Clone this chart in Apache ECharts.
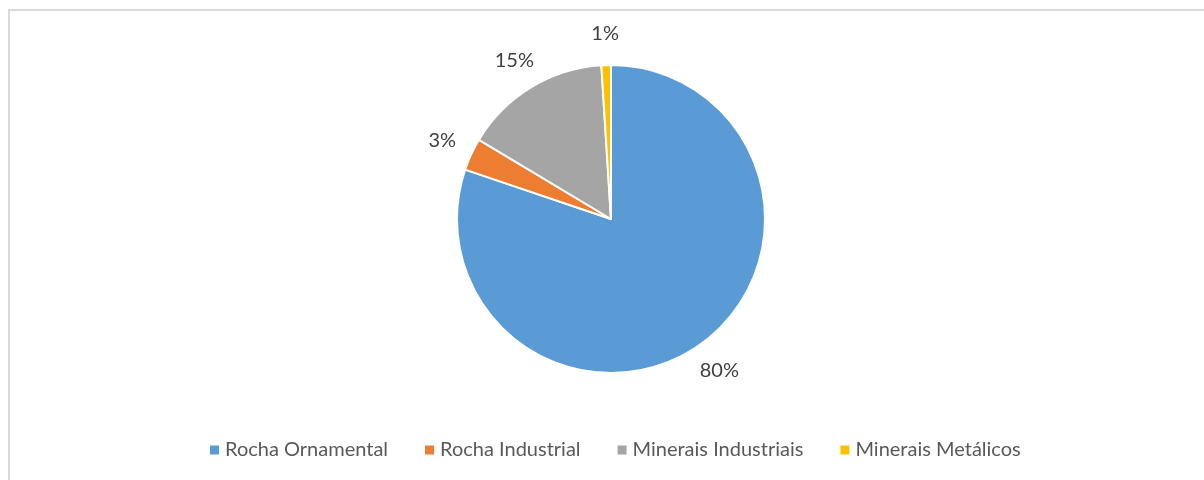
<!DOCTYPE html>
<html>
<head>
<meta charset="utf-8">
<script src="https://cdn.jsdelivr.net/npm/echarts@6/dist/echarts.min.js"></script>
<style>
html,body{margin:0;padding:0;background:#fff;}
#frame{position:absolute;left:8px;top:9px;width:1400px;height:700px;border-top:2px solid #d9d9d9;border-left:2px solid #d9d9d9;}
#chart{position:absolute;left:0;top:0;width:1204px;height:480px;}
</style>
</head>
<body>
<div id="frame"></div>
<div id="chart"></div>
<script>
const categories = ['Rocha Ornamental', 'Rocha Industrial', 'Minerais Industriais', 'Minerais Metálicos'];
const values = [80.2, 3.4, 15.4, 1.0];
const colors = ['#5b9bd5', '#ed7d31', '#a5a5a5', '#ffc000'];

const data = categories.map((c, i) => ({ name: c, value: values[i] }));
const fontFamily = 'Lato, "Noto Sans", sans-serif';
const chart = echarts.init(document.getElementById('chart'));
chart.setOption({
  animation: false,
  color: colors,
  legend: {
    data: categories,
    bottom: 15,
    left: 203,
    icon: 'rect',
    itemWidth: 11,
    itemHeight: 11,
    itemGap: 35,
    textStyle: { fontFamily: fontFamily, fontSize: 20, color: '#595959' }
  },
  series: [
    {
      type: 'pie',
      center: [611, 219],
      radius: [0, 154],
      startAngle: 90,
      clockwise: true,
      data: data,
      itemStyle: { borderColor: '#fff', borderWidth: 2 },
      label: { show: false },
      labelLine: { show: false }
    },
    {
      type: 'pie',
      center: [611, 219],
      radius: [162, 204],
      startAngle: 90,
      clockwise: true,
      silent: true,
      data: data,
      itemStyle: { color: 'rgba(0,0,0,0)' },
      emphasis: { disabled: true },
      label: {
        show: true,
        position: 'inside',
        formatter: p => Math.round(p.value) + '%',
        fontFamily: fontFamily,
        fontSize: 20,
        color: '#404040'
      },
      labelLine: { show: false }
    }
  ]
});
</script>
</body>
</html>
